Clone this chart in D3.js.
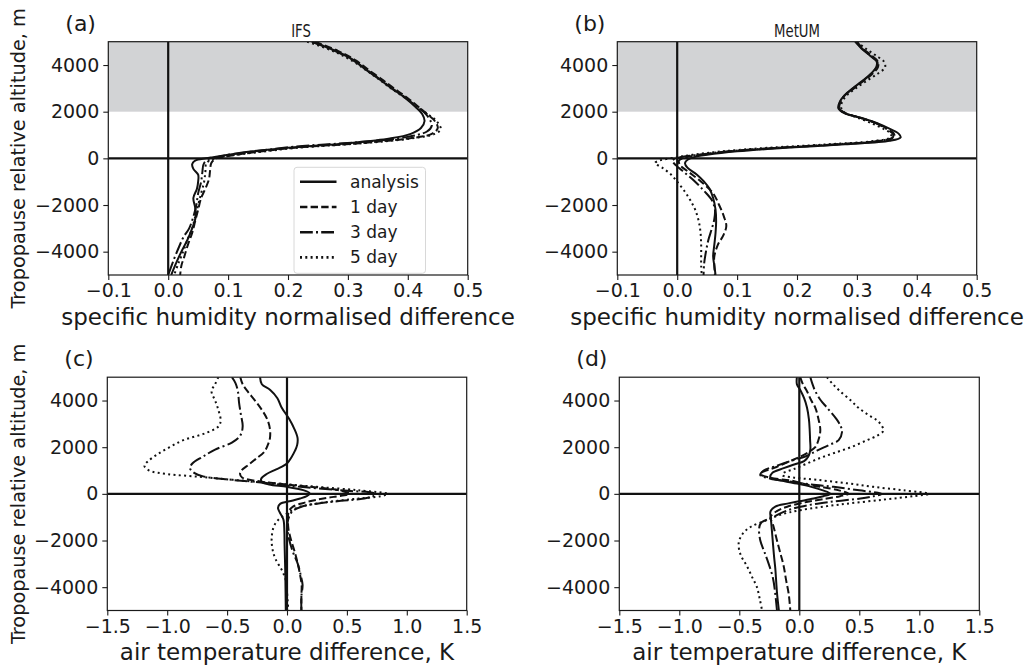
<!DOCTYPE html>
<html>
<head>
<meta charset="utf-8">
<script src="https://cdn.jsdelivr.net/npm/d3@7"></script>
<style>
  body { margin: 0; background: #fff; }
  text { font-family: "DejaVu Sans", sans-serif; fill: #1a1a1a; }
</style>
</head>
<body>
<svg id="fig" width="1033" height="669"></svg>
<script>
// Profiles: [tropopause-relative altitude (m), difference]
const seriesNames = ["analysis", "1 day", "3 day", "5 day"];

// (a) IFS specific humidity normalised difference
const ifsQAnalysis = [[5000,0.24],[4600,0.28],[4200,0.31],[3800,0.33],[3400,0.352],[3000,0.373],[2600,0.395],[2200,0.413],[1900,0.424],[1600,0.428],[1300,0.422],[1050,0.405],[850,0.37],[650,0.30],[450,0.20],[300,0.14],[150,0.10],[50,0.075],[0,0.063],[-100,0.045],[-250,0.04],[-450,0.042],[-700,0.05],[-1000,0.05],[-1300,0.048],[-1700,0.042],[-2100,0.045],[-2500,0.046],[-3000,0.04],[-3500,0.032],[-4000,0.022],[-4500,0.013],[-5000,0.005]];
const ifsQDay1 = [[5000,0.245],[4600,0.284],[4200,0.313],[3800,0.334],[3400,0.356],[3000,0.377],[2600,0.399],[2200,0.418],[1900,0.432],[1600,0.445],[1300,0.45],[1050,0.44],[850,0.40],[650,0.32],[450,0.21],[250,0.14],[100,0.10],[0,0.08],[-200,0.072],[-500,0.07],[-900,0.068],[-1300,0.062],[-1700,0.055],[-2200,0.05],[-2700,0.045],[-3200,0.04],[-3700,0.033],[-4200,0.027],[-4600,0.022],[-5000,0.02]];
const ifsQDay3 = [[5000,0.24],[4600,0.279],[4200,0.309],[3800,0.331],[3400,0.353],[3000,0.374],[2600,0.396],[2200,0.416],[1900,0.43],[1600,0.438],[1400,0.44],[1150,0.432],[900,0.395],[700,0.32],[500,0.21],[300,0.145],[150,0.10],[0,0.075],[-200,0.06],[-600,0.057],[-1000,0.055],[-1500,0.05],[-2000,0.047],[-2500,0.042],[-3000,0.035],[-3400,0.025],[-3800,0.018],[-4300,0.01],[-5000,0.0]];
const ifsQDay5 = [[5000,0.232],[4600,0.275],[4200,0.306],[3800,0.329],[3400,0.351],[3000,0.372],[2600,0.395],[2200,0.417],[1900,0.433],[1600,0.448],[1250,0.455],[1050,0.445],[850,0.405],[650,0.325],[450,0.215],[250,0.145],[100,0.10],[0,0.078],[-200,0.064],[-600,0.062],[-1000,0.06],[-1500,0.055],[-2000,0.05],[-2500,0.045],[-3000,0.04],[-3500,0.032],[-4000,0.025],[-4500,0.017],[-5000,0.01]];

// (b) MetUM specific humidity normalised difference
const umQAnalysis = [[5000,0.297],[4700,0.308],[4400,0.322],[4150,0.333],[3900,0.332],[3600,0.322],[3300,0.308],[3000,0.293],[2700,0.279],[2400,0.271],[2150,0.269],[1950,0.278],[1750,0.305],[1500,0.335],[1250,0.356],[1050,0.37],[900,0.373],[750,0.355],[600,0.28],[450,0.18],[300,0.10],[150,0.05],[50,0.028],[-50,0.018],[-200,0.013],[-400,0.017],[-700,0.033],[-1000,0.045],[-1300,0.054],[-1700,0.06],[-2200,0.064],[-2700,0.065],[-3200,0.064],[-3700,0.062],[-4200,0.06],[-4600,0.062],[-5000,0.064]];
const umQDay1 = [[5000,0.30],[4700,0.31],[4400,0.325],[4150,0.335],[3900,0.335],[3600,0.325],[3300,0.31],[3000,0.295],[2700,0.28],[2400,0.272],[2150,0.271],[1950,0.28],[1750,0.305],[1500,0.333],[1250,0.352],[1050,0.362],[900,0.362],[750,0.34],[600,0.27],[450,0.17],[300,0.09],[150,0.04],[50,0.015],[-100,0.003],[-300,0.005],[-600,0.02],[-1000,0.04],[-1500,0.06],[-2000,0.07],[-2500,0.078],[-2900,0.082],[-3300,0.077],[-3700,0.068],[-4200,0.062],[-4600,0.062],[-5000,0.063]];
const umQDay3 = [[5000,0.298],[4700,0.309],[4400,0.323],[4150,0.334],[3900,0.333],[3600,0.323],[3300,0.309],[3000,0.294],[2700,0.28],[2400,0.272],[2150,0.27],[1950,0.279],[1750,0.304],[1500,0.332],[1250,0.35],[1050,0.36],[900,0.36],[750,0.338],[600,0.265],[450,0.165],[300,0.085],[150,0.035],[50,0.005],[-100,-0.008],[-300,-0.002],[-600,0.012],[-1000,0.03],[-1400,0.045],[-1800,0.058],[-2200,0.063],[-2600,0.062],[-3000,0.058],[-3500,0.052],[-4000,0.048],[-4500,0.045],[-5000,0.044]];
const umQDay5 = [[5000,0.30],[4700,0.315],[4400,0.332],[4150,0.345],[3900,0.347],[3600,0.333],[3300,0.315],[3000,0.298],[2700,0.283],[2400,0.275],[2150,0.274],[1950,0.28],[1750,0.30],[1500,0.325],[1250,0.345],[1050,0.357],[900,0.356],[750,0.33],[600,0.25],[450,0.15],[300,0.075],[150,0.025],[50,0.0],[-100,-0.03],[-200,-0.037],[-400,-0.025],[-700,-0.01],[-1000,0.0],[-1400,0.012],[-1800,0.022],[-2200,0.03],[-2700,0.036],[-3200,0.039],[-3700,0.04],[-4200,0.04],[-4600,0.04],[-5000,0.041]];

// (c) IFS air temperature difference, K
const ifsTAnalysis = [[5000,-0.225],[4700,-0.21],[4450,-0.14],[4100,-0.08],[3700,-0.045],[3200,0.02],[2800,0.06],[2400,0.088],[2100,0.085],[1850,0.067],[1550,0.035],[1300,0.0],[1050,-0.09],[850,-0.17],[650,-0.215],[500,-0.21],[400,-0.15],[300,0.0],[160,0.136],[50,0.185],[0,0.19],[-100,0.165],[-200,0.11],[-320,0.02],[-420,-0.055],[-600,-0.075],[-800,-0.06],[-1100,-0.03],[-1600,-0.022],[-2200,-0.02],[-2800,-0.017],[-3500,-0.014],[-4200,-0.012],[-5000,-0.01]];
const ifsTDay1 = [[5000,-0.39],[4700,-0.37],[4400,-0.33],[4000,-0.267],[3600,-0.21],[3200,-0.165],[2800,-0.143],[2400,-0.142],[2100,-0.16],[1800,-0.19],[1500,-0.26],[1250,-0.32],[1000,-0.38],[850,-0.392],[700,-0.375],[550,-0.25],[400,0.0],[250,0.3],[120,0.46],[0,0.52],[-130,0.39],[-250,0.25],[-400,0.13],[-550,0.05],[-750,0.015],[-1100,0.008],[-1500,0.012],[-2000,0.035],[-2500,0.065],[-3000,0.09],[-3500,0.11],[-3900,0.122],[-4400,0.12],[-5000,0.12]];
const ifsTDay3 = [[5000,-0.46],[4750,-0.43],[4400,-0.41],[3900,-0.40],[3400,-0.385],[2900,-0.37],[2500,-0.39],[2200,-0.46],[1900,-0.60],[1600,-0.70],[1300,-0.79],[1100,-0.81],[900,-0.775],[750,-0.70],[600,-0.46],[450,-0.15],[300,0.11],[150,0.45],[0,0.735],[-100,0.72],[-200,0.64],[-300,0.45],[-420,0.25],[-550,0.12],[-750,0.045],[-1100,0.01],[-1500,0.003],[-2000,0.02],[-2500,0.05],[-3000,0.09],[-3500,0.115],[-3900,0.13],[-4400,0.12],[-5000,0.12]];
const ifsTDay5 = [[5000,-0.573],[4700,-0.60],[4400,-0.63],[4000,-0.60],[3600,-0.573],[3150,-0.554],[2900,-0.57],[2600,-0.68],[2300,-0.866],[2000,-0.98],[1700,-1.08],[1400,-1.16],[1200,-1.19],[1000,-1.15],[850,-1.0],[730,-0.726],[600,-0.45],[450,-0.10],[300,0.25],[150,0.60],[0,0.84],[-100,0.78],[-200,0.60],[-300,0.42],[-420,0.24],[-600,0.08],[-850,0.0],[-1100,-0.07],[-1400,-0.11],[-1900,-0.128],[-2400,-0.12],[-2800,-0.095],[-3300,-0.04],[-3700,-0.01],[-4200,0.0],[-5000,0.011]];

// (d) MetUM air temperature difference, K
const umTAnalysis = [[5000,-0.02],[4700,-0.02],[4450,0.008],[4100,0.04],[3700,0.064],[3200,0.08],[2800,0.086],[2300,0.09],[1900,0.092],[1600,0.075],[1400,0.04],[1250,-0.05],[1100,-0.13],[900,-0.225],[700,-0.24],[550,-0.13],[440,-0.02],[300,0.10],[160,0.19],[0,0.26],[-100,0.20],[-200,0.12],[-320,0.0],[-420,-0.10],[-550,-0.20],[-750,-0.24],[-1100,-0.236],[-1600,-0.228],[-2100,-0.22],[-2700,-0.21],[-3200,-0.20],[-3800,-0.192],[-4300,-0.185],[-5000,-0.17]];
const umTDay1 = [[5000,0.008],[4700,0.03],[4400,0.064],[4000,0.10],[3700,0.133],[3200,0.16],[2750,0.175],[2400,0.165],[2000,0.133],[1800,0.08],[1600,0.01],[1400,-0.08],[1150,-0.19],[950,-0.30],[850,-0.325],[700,-0.25],[550,-0.05],[400,0.06],[300,0.175],[150,0.33],[0,0.41],[-100,0.34],[-200,0.23],[-350,0.06],[-550,-0.10],[-750,-0.19],[-1000,-0.24],[-1300,-0.22],[-2000,-0.186],[-2600,-0.155],[-3100,-0.13],[-3700,-0.11],[-4300,-0.088],[-5000,-0.075]];
const umTDay3 = [[5000,0.092],[4700,0.11],[4400,0.133],[4000,0.18],[3700,0.23],[3200,0.31],[2900,0.345],[2650,0.356],[2300,0.328],[2100,0.25],[1850,0.147],[1600,0.05],[1450,-0.047],[1200,-0.19],[1000,-0.297],[800,-0.325],[650,-0.24],[550,-0.10],[400,0.10],[300,0.286],[150,0.50],[0,0.69],[-100,0.62],[-200,0.51],[-350,0.25],[-550,0.01],[-750,-0.12],[-1000,-0.22],[-1250,-0.32],[-1500,-0.335],[-2000,-0.325],[-2500,-0.29],[-3000,-0.255],[-3600,-0.22],[-4300,-0.20],[-5000,-0.186]];
const umTDay5 = [[5000,0.23],[4700,0.28],[4400,0.34],[4000,0.43],[3700,0.49],[3400,0.57],[3150,0.647],[2900,0.69],[2700,0.70],[2500,0.65],[2300,0.564],[2000,0.43],[1750,0.29],[1550,0.18],[1300,0.064],[1050,-0.05],[900,-0.13],[800,-0.14],[700,-0.05],[600,0.15],[450,0.40],[300,0.62],[150,0.87],[0,1.08],[-100,0.95],[-250,0.70],[-450,0.35],[-700,0.008],[-900,-0.16],[-1130,-0.27],[-1400,-0.40],[-1700,-0.47],[-2100,-0.505],[-2600,-0.49],[-3100,-0.436],[-3600,-0.39],[-4000,-0.353],[-4500,-0.33],[-5000,-0.31]];

const altDomain = [-5000, 5000];
const altTicks = [-4000, -2000, 0, 2000, 4000];
const qDomain = [-0.1, 0.5];
const qTicks = [-0.1, 0.0, 0.1, 0.2, 0.3, 0.4, 0.5];
const tDomain = [-1.5, 1.5];
const tTicks = [-1.5, -1.0, -0.5, 0.0, 0.5, 1.0, 1.5];
const stratosphereBand = [2000, 5000];

// Line styles for the four forecast ranges
const dashArrays = [null, "7.4,3.2", "12.8,3.2,2,3.2", "2,3.3"];
const lineWidth = 2;

const panels = [
  { tag: "(a)", title: "IFS", titleX: 301, xDomain: qDomain, xTicks: qTicks,
    xLabel: "specific humidity normalised difference", band: true, legend: true,
    box: { l: 108.3, r: 467.7, t: 41.7, b: 275 },
    data: [ifsQAnalysis, ifsQDay1, ifsQDay3, ifsQDay5] },
  { tag: "(b)", title: "MetUM", titleX: 797, xDomain: qDomain, xTicks: qTicks,
    xLabel: "specific humidity normalised difference", band: true, legend: false,
    box: { l: 617.3, r: 976.7, t: 41.7, b: 275 },
    data: [umQAnalysis, umQDay1, umQDay3, umQDay5] },
  { tag: "(c)", title: null, xDomain: tDomain, xTicks: tTicks,
    xLabel: "air temperature difference, K", band: false, legend: false,
    box: { l: 107.3, r: 466.7, t: 377.2, b: 610.5 },
    data: [ifsTAnalysis, ifsTDay1, ifsTDay3, ifsTDay5] },
  { tag: "(d)", title: null, xDomain: tDomain, xTicks: tTicks,
    xLabel: "air temperature difference, K", band: false, legend: false,
    box: { l: 619.3, r: 979.3, t: 377.2, b: 610.5 },
    data: [umTAnalysis, umTDay1, umTDay3, umTDay5] }
];

const svg = d3.select("#fig");
const fmtX = d3.format(".1f");
const fmtY = d3.format("d");

panels.forEach((p, i) => {
  const { l, r, t, b } = p.box;
  const x = d3.scaleLinear().domain(p.xDomain).range([l, r]);
  const y = d3.scaleLinear().domain(altDomain).range([b, t]);
  const g = svg.append("g");

  const clipId = "clip" + i;
  g.append("clipPath").attr("id", clipId)
    .append("rect").attr("x", l).attr("y", t).attr("width", r - l).attr("height", b - t);

  if (p.band) {
    g.append("rect")
      .attr("x", l).attr("width", r - l)
      .attr("y", y(stratosphereBand[1]))
      .attr("height", y(stratosphereBand[0]) - y(stratosphereBand[1]))
      .attr("fill", "#d2d3d5");
  }

  const line = d3.line()
    .x(d => x(d[1]))
    .y(d => y(d[0]))
    .curve(d3.curveCatmullRom.alpha(0.5));

  const plot = g.append("g").attr("clip-path", `url(#${clipId})`);
  p.data.forEach((s, k) => {
    plot.append("path")
      .datum(s)
      .attr("d", line)
      .attr("fill", "none")
      .attr("stroke", "#111")
      .attr("stroke-width", lineWidth)
      .attr("stroke-dasharray", dashArrays[k])
      .attr("stroke-linejoin", "round");
  });

  // zero reference lines
  plot.append("line").attr("x1", x(0)).attr("x2", x(0)).attr("y1", t).attr("y2", b)
    .attr("stroke", "#111").attr("stroke-width", 2.2);
  plot.append("line").attr("x1", l).attr("x2", r).attr("y1", y(0)).attr("y2", y(0))
    .attr("stroke", "#111").attr("stroke-width", 2.2);

  // axes
  const xAxis = d3.axisBottom(x).tickValues(p.xTicks).tickFormat(fmtX).tickSize(5).tickPadding(4);
  const yAxis = d3.axisLeft(y).tickValues(altTicks).tickFormat(fmtY).tickSize(5).tickPadding(4);
  const gx = g.append("g").attr("transform", `translate(0,${b})`).call(xAxis);
  const gy = g.append("g").attr("transform", `translate(${l},0)`).call(yAxis);
  [gx, gy].forEach(ax => {
    ax.select(".domain").remove();
    ax.selectAll(".tick line").attr("stroke", "#1a1a1a").attr("stroke-width", 1.1);
    ax.selectAll(".tick text").style("font-size", "19px").attr("fill", "#1a1a1a")
      .style("font-family", "'DejaVu Sans', sans-serif");
  });

  // frame
  g.append("rect").attr("x", l).attr("y", t).attr("width", r - l).attr("height", b - t)
    .attr("fill", "none").attr("stroke", "#1a1a1a").attr("stroke-width", 1.2);

  // labels
  g.append("text").attr("x", (l + r) / 2).attr("y", b + 49.5)
    .attr("text-anchor", "middle").style("font-size", "23px").text(p.xLabel);
  g.append("text").attr("x", l - 43).attr("y", t - 11)
    .style("font-size", "22px").text(p.tag);
  if (p.title) {
    g.append("text")
      .attr("transform", `translate(${p.titleX},${t - 5}) scale(0.78,1)`)
      .attr("text-anchor", "middle").style("font-size", "17px").text(p.title);
  }
  if (i % 2 === 0) {
    g.append("text")
      .attr("transform", `translate(25,${(t + b) / 2}) rotate(-90)`)
      .attr("text-anchor", "middle").style("font-size", "19.3px")
      .text("Tropopause relative altitude, m");
  }

  if (p.legend) {
    const lg = g.append("g");
    const lx = 294, ly = 167.3, lw = 131.5, lh = 106;
    lg.append("rect").attr("x", lx).attr("y", ly).attr("width", lw).attr("height", lh)
      .attr("rx", 3).attr("fill", "#fff").attr("fill-opacity", 0.85)
      .attr("stroke", "#d8d8d8").attr("stroke-width", 1);
    seriesNames.forEach((name, k) => {
      const yy = ly + 14.5 + k * 25.2;
      lg.append("line").attr("x1", lx + 6).attr("x2", lx + 42.5)
        .attr("y1", yy).attr("y2", yy)
        .attr("stroke", "#111").attr("stroke-width", lineWidth + 0.6)
        .attr("stroke-dasharray", dashArrays[k]);
      lg.append("text").attr("x", lx + 56).attr("y", yy + 6)
        .style("font-size", "17px").text(name);
    });
  }
});
</script>
</body>
</html>
